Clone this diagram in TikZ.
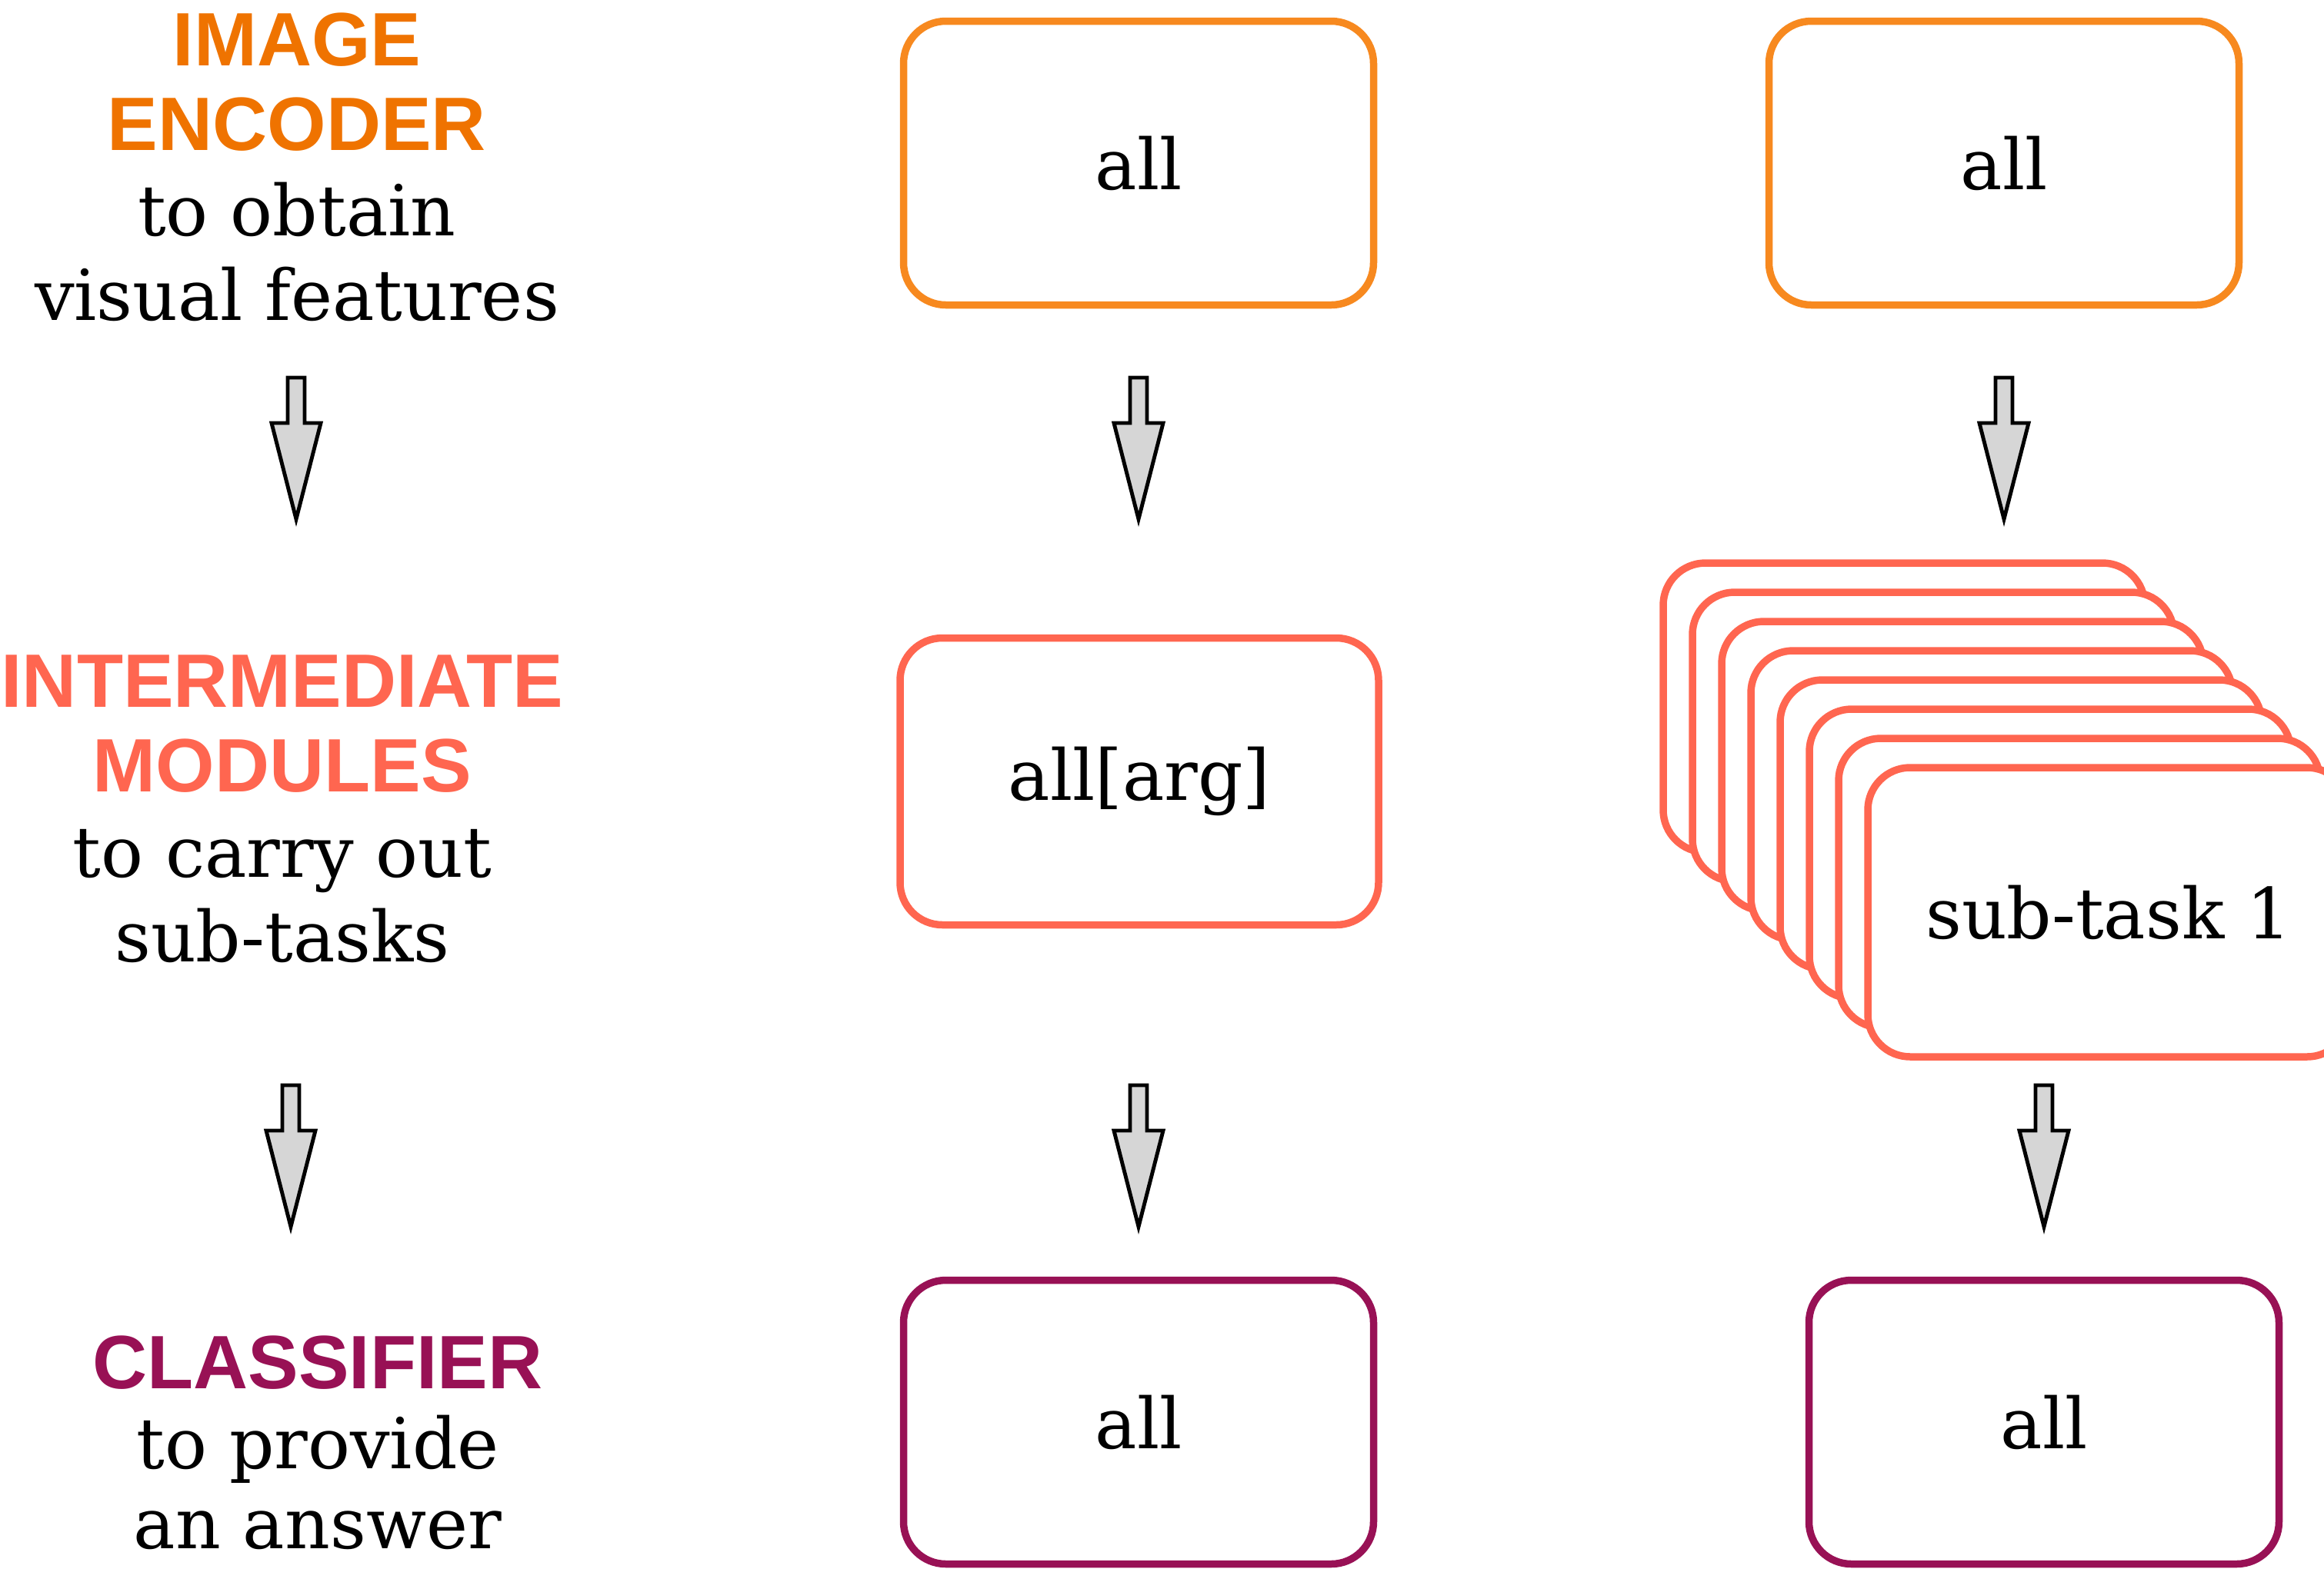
\documentclass[tikz,border=0pt]{standalone}
\usepackage{fontspec}
\setmainfont{DejaVu Serif}
\setsansfont{Liberation Sans}
\usetikzlibrary{calc}

\definecolor{encorange}{HTML}{EF7300}
\definecolor{boxorange}{HTML}{F7891F}
\definecolor{modcoral}{HTML}{FF6650}
\definecolor{clsplum}{HTML}{981155}
\definecolor{arrowgray}{HTML}{D6D6D6}

% coloured stage name in bold sans
\newcommand{\stagename}[2]{{\color{#1}\fontsize{28}{31.6}\selectfont\sffamily\bfseries #2}}

\begin{document}
\begin{tikzpicture}[
        box/.style={draw, line width=2.7pt, rounded corners=0.55cm, fill=white, minimum width=6.11cm, minimum height=3.69cm, text centered, font=\fontsize{26}{31}\selectfont},
        stage/.style={align=center, anchor=north, inner sep=0pt, font=\fontsize{26}{31.4}\selectfont},
        flow/.style={draw=black, fill=arrowgray, line width=1.4pt, line join=miter,
            to path={++(-0.11,0) -- ($(\tikztotarget)+(-0.11,1.25)$) -- ($(\tikztotarget)+(-0.32,1.25)$) -- (\tikztotarget)
                -- ($(\tikztotarget)+(0.32,1.25)$) -- ($(\tikztotarget)+(0.11,1.25)$) -- ($(\tikztostart)+(0.11,0)$) -- cycle}}
    ]
        \useasboundingbox (0,0) rectangle (30.21,-20.40);

        % Stage descriptions
        \node[stage] (enc) at (3.86,-0.16) {\stagename{encorange}{IMAGE}\\\stagename{encorange}{ENCODER}\\to obtain\\visual features};
        \node[stage] (mod) at (3.67,-8.51) {\stagename{modcoral}{INTERMEDIATE}\\\stagename{modcoral}{MODULES}\\to carry out\\sub-tasks};
        \node[stage, font=\fontsize{26}{29.6}\selectfont] (cls) at (4.13,-17.36) {\stagename{clsplum}{CLASSIFIER}\\to provide\\an answer};

        % Image encoder
        \node[box, draw=boxorange] (encall) at (14.80,-2.12) {all};
        \node[box, draw=boxorange] (encsub) at (26.05,-2.12) {all};

        % Intermediate modules
        \node[box, draw=modcoral, minimum width=6.22cm, minimum height=3.73cm] (modall) at (14.81,-10.16) {all[arg]};
        \foreach \i in {0,...,6}
            \node[box, draw=modcoral, minimum width=6.26cm, minimum height=3.76cm] (sub\i) at ({24.75+0.38*\i},{-9.20-0.38*\i}) {};
        \node[box, draw=modcoral, minimum width=6.26cm, minimum height=3.76cm] (sub7) at (27.41,-11.86) {sub-task 1};

        % Classifier
        \node[box, draw=clsplum] (clsall) at (14.80,-18.49) {all};
        \node[box, draw=clsplum] (clssub) at (26.57,-18.49) {all};

        % Flow arrows
        \foreach \x/\y [count=\n] in {3.85/-4.91, 14.80/-4.91, 26.05/-4.91, 3.78/-14.11, 14.80/-14.11, 26.57/-14.11} {
            \coordinate (from\n) at (\x,\y);
            \coordinate (to\n) at (\x,\y-1.84);
            \draw[flow] (from\n) to (to\n);
        }
    \end{tikzpicture}
\end{document}
